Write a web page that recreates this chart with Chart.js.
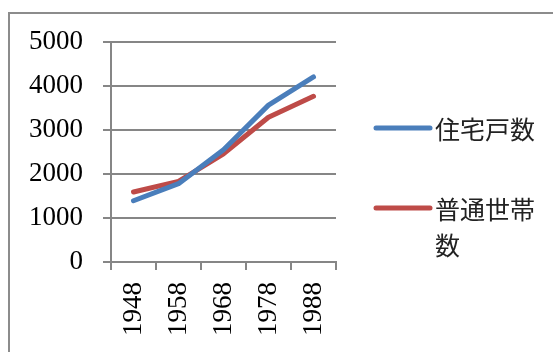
<!DOCTYPE html>
<html>
<head>
<meta charset="utf-8">
<script src="https://cdn.jsdelivr.net/npm/chart.js@4"></script>
<style>
  html, body { margin: 0; padding: 0; background: #fff; }
  #wrap { width: 553px; height: 352px; }
</style>
</head>
<body>
<div id="wrap"><canvas id="chart" width="553" height="352"></canvas></div>
<script>
const years = ["1948", "1958", "1968", "1978", "1988"];
const housingUnits = [1392, 1780, 2550, 3565, 4205];
const households = [1590, 1832, 2460, 3290, 3765];
const seriesNames = ["住宅戸数", "普通世帯数"];
const seriesColors = ["#4A7EBB", "#BE4B48"];
const yTicks = [0, 1000, 2000, 3000, 4000, 5000];

const GRID = "#868686";
const SERIF = "'Liberation Serif', 'DejaVu Serif', serif";
const CJK = "'Noto Sans CJK JP', 'Noto Sans CJK SC', sans-serif";

// outer frame, only left and top edges are inside the picture
const frame = {
    id: "frame",
    beforeDraw(chart) {
        const ctx = chart.ctx;
        ctx.save();
        ctx.fillStyle = "#fff";
        ctx.fillRect(0, 0, chart.width, chart.height);
        ctx.strokeStyle = "#8c8c8c";
        ctx.lineWidth = 2;
        ctx.strokeRect(9, 13, chart.width + 20, chart.height + 20);
        ctx.restore();
    }
};

// legend on the right, wraps long names like the original
const sideLegend = {
    id: "sideLegend",
    afterDraw(chart) {
        const ctx = chart.ctx;
        const rows = [128, 208];
        const x0 = 376, x1 = 430, tx = 435, maxW = 112, lh = 36;
        ctx.save();
        chart.data.datasets.forEach((ds, i) => {
            const y = rows[i];
            ctx.strokeStyle = ds.borderColor;
            ctx.lineWidth = 5;
            ctx.lineCap = "round";
            ctx.beginPath();
            ctx.moveTo(x0, y);
            ctx.lineTo(x1, y);
            ctx.stroke();
            ctx.font = "25px " + CJK;
            ctx.fillStyle = "#222";
            ctx.textBaseline = "middle";
            let lines = [], cur = "";
            for (const ch of ds.label) {
                if (ctx.measureText(cur + ch).width > maxW && cur) { lines.push(cur); cur = ch; }
                else cur += ch;
            }
            lines.push(cur);
            lines.forEach((l, j) => ctx.fillText(l, tx, y + 1 + j * lh));
        });
        ctx.restore();
    }
};

new Chart(document.getElementById("chart"), {
    type: "line",
    data: {
        labels: years,
        datasets: [
            { label: seriesNames[0], data: housingUnits, borderColor: seriesColors[0] },
            { label: seriesNames[1], data: households, borderColor: seriesColors[1] }
        ].map(d => Object.assign(d, {
            borderWidth: 5, pointRadius: 0, tension: 0, fill: false,
            borderCapStyle: "round", borderJoinStyle: "round"
        }))
    },
    options: {
        responsive: false,
        animation: false,
        layout: { padding: { left: 0, top: 42, right: 217, bottom: 0 } },
        plugins: { legend: { display: false }, tooltip: { enabled: false } },
        scales: {
            x: {
                offset: true,
                grid: { offset: true, drawOnChartArea: false, drawTicks: true, tickLength: 8, color: GRID, lineWidth: 2 },
                border: { color: GRID, width: 2 },
                ticks: { minRotation: 90, maxRotation: 90, padding: 12, color: "#000", font: { family: SERIF, size: 27 } },
                afterFit(s) { s.height = 90; }
            },
            y: {
                min: 0, max: 5000,
                afterBuildTicks(s) { s.ticks = yTicks.map(v => ({ value: v })); },
                grid: { color: GRID, lineWidth: 2, tickLength: 8 },
                border: { color: GRID, width: 2 },
                ticks: { padding: 20, color: "#000", font: { family: SERIF, size: 27 }, callback: v => String(v) },
                afterFit(s) { s.width = 111; }
            }
        }
    },
    plugins: [frame, sideLegend]
});
</script>
</body>
</html>
